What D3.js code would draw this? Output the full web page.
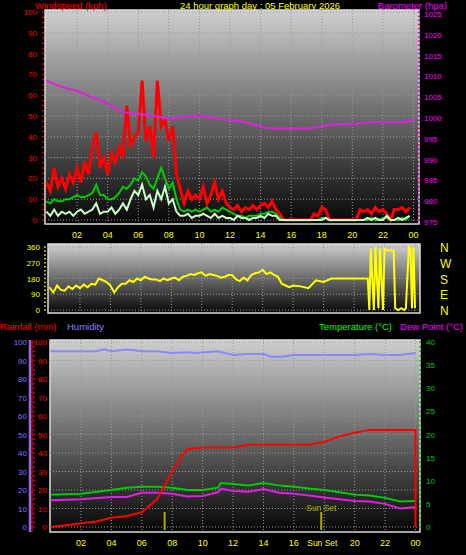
<!DOCTYPE html>
<html>
<head>
<meta charset="utf-8">
<script src="https://cdn.jsdelivr.net/npm/d3@7"></script>
<style>
  body { margin:0; background:#000; }
  text { font-family: "Liberation Sans", sans-serif; }
</style>
</head>
<body>
<svg id="chart" width="466" height="555"></svg>
<script>
// quarter-hour wind data, kph
var gust = [18,14,25,16, 20,15,22,18, 25,18,28,22, 35,42,25,30, 22,32,28,35, 30,55,35,40,
  42,67,38,45, 30,67,45,48, 38,45,22,15, 8,14,10,12, 10,16,8,12, 18,10,14,8,
  6,5,7,4, 6,5,7,5, 7,8,6,9, 5,3,0,0, 0,0,0,0, 0,0,3,2,
  6,5,0,0, 0,0,0,0, 0,0,5,4, 5,3,6,4, 5,3,0,5, 5,6,4,6];
var avgWind = [9,8,10,9, 9,10,10,11, 12,11,11,12, 13,17,12,12, 10,10,11,13, 16,15,17,20,
  19,23,21,17, 15,20,25,20, 15,18,10,5, 4,5,4,5, 4,5,6,4, 5,4,6,5,
  4,3,2,2, 1,2,2,2, 3,3,4,4, 3,1,0,0, 0,0,0,0, 0,0,0,0,
  1,1,0,0, 0,0,0,0, 0,0,0,0, 0,1,0,0, 1,1,0,0, 0,1,0,2];
var speed = [4,2,5,2, 4,3,4,2, 4,5,3,4, 5,8,3,4, 4,6,3,5, 8,5,10,14,
  12,17,10,12, 6,14,10,16, 8,10,4,2, 2,3,1,2, 2,3,2,1, 3,1,2,1,
  1,0,2,1, 1,0,1,1, 2,1,3,2, 2,0,0,0, 0,0,0,0, 0,0,0,0,
  0,1,0,0, 0,0,0,0, 0,0,0,0, 1,0,1,0, 0,2,0,0, 1,0,1,2];
// hourly barometer, hPa
var baro = [1008.5,1007,1006,1004.5,1003,1001,1000.5,1000,999.5,999.8,1000,999.5,999,
  998.5,997.5,997,997,997,997.5,998,998,998.5,998.5,998.5,999];
// wind direction, degrees (quarter-hour 0-16h, then half-hour, then the late swings)
var windDir = [130,100,140,115, 110,135,120,140, 125,145,130,150, 145,180,170,160,
  140,100,130,150, 150,170,160,180, 170,190,180,175, 175,165,180,170,
  180,185,170,190, 195,205,200,210, 215,195,205,200, 195,185,190,200,
  200,175,165,185, 170,200,210,215, 230,205,215,200, 190,150,140,130,
  140,135,125,170,160,180,180,180,180,180,
  0,350,0,360,10,350,0,350,340,340,340,10,0,10,0,10,360,350,10,360,10];
var windDirHours = d3.range(0,16,0.25).concat(d3.range(16,20.5,0.5)).concat([20.9])
  .concat([21,21.1,21.3,21.4,21.6,21.7,21.9,22,22.2,22.4,22.6,22.7,22.9,23.1,23.3,23.4,23.6,23.7,23.8,23.9,24]);
// cumulative rain, mm
var rainHours = [0,1,2,3,4,5,6,7,8,8.5,9,10,11,12,13,14,15,16,17,18,19,20,21,22,23,24,24];
var rain = [0,1,2,3,5,6,8,15,30,37,42,43,43,43,44.5,44.5,44.5,44.5,44.5,46,49,51,52.5,52.5,52.5,52.5,0];
var humHours = [0,3,3.5,4,5,5.5,6,7,8,9,9.5,11,11.5,12,13,14,14.5,15.2,16,17,20,21,22,23,24];
var humidity = [95,95,96,95,96,95.5,95,95,94,94.5,94,95,94,93,93.5,93.5,92,92,93,93,93,93.5,93,93,94];
var tHours = [0,2,4,5,6,7,8,9,10,11,11.2,12,13,14,15,16,17,18,19,20,21,22,23,24];
var temp = [7,7.2,8,8.5,8.7,8.7,8.5,8,8,8.5,9.5,9.3,9,9.5,9,8.7,8.3,8,7.5,7,6.8,6.3,5.5,5.6];
var dew = [5.8,6,6.5,6.5,7.4,7.4,7.2,6.6,6.7,7.5,8.3,7.8,7.6,8.2,7.4,7.2,6.8,6.4,6,5.6,5.5,5,4,4.3];
var hourTicks = [2,4,6,8,10,12,14,16,18,20,22,24];
var sunTimes = [7.5, 17.8];

var svg = d3.select("#chart");
var defs = svg.append("defs");
var grad = defs.append("linearGradient").attr("id","bg").attr("x1",0).attr("x2",0).attr("y1",0).attr("y2",1);
grad.append("stop").attr("offset","0%").attr("stop-color","#cfcfcf");
grad.append("stop").attr("offset","100%").attr("stop-color","#050505");

var fmtH = function(h){ return d3.format("02")(h % 24); };
var qh = gust.map(function(d,i){ return i/4; });

function panel(x0,x1,y0,y1,xs,ys,yticks,hourLabels,skip){
  svg.append("rect").attr("x",x0).attr("y",y0).attr("width",x1-x0).attr("height",y1-y0)
    .attr("fill","url(#bg)").attr("stroke","#ddd").attr("stroke-width",1.5);
  var g = svg.append("g").attr("stroke","#999").attr("stroke-dasharray","1,2").attr("stroke-width",1);
  hourTicks.forEach(function(h){ g.append("line").attr("x1",xs(h)).attr("x2",xs(h)).attr("y1",y0).attr("y2",y1); });
  yticks.forEach(function(v){ g.append("line").attr("x1",x0).attr("x2",x1).attr("y1",ys(v)).attr("y2",ys(v)); });
  if (!hourLabels) return;
  svg.append("g").selectAll("text").data(hourTicks.filter(function(h){return h!==skip;})).join("text")
    .attr("x",function(d){return xs(d);}).attr("y",y1+14).attr("text-anchor","middle")
    .attr("fill","#ff0").attr("font-size",9).text(fmtH);
}
function labels(vals,scale,x,color,anchor,dy){
  svg.append("g").selectAll("text").data(vals).join("text")
    .attr("x",x).attr("y",function(d){return scale(d)+(dy||3);}).attr("text-anchor",anchor)
    .attr("fill",color).attr("font-size",8).text(function(d){return d;});
}
function minor(scale,lo,hi,step,x,color){
  svg.append("g").selectAll("line").data(d3.range(lo,hi+0.001,step)).join("line")
    .attr("x1",x).attr("x2",x+2).attr("y1",function(d){return scale(d);}).attr("y2",function(d){return scale(d);})
    .attr("stroke",color).attr("stroke-width",1.5);
}

// ---- panel 1 wind / baro
var x1 = d3.scaleLinear().domain([0,24]).range([46.5,413.5]);
var yW = d3.scaleLinear().domain([0,100]).range([220,12]);
var yB = d3.scaleLinear().domain([975,1025]).range([220,12]);
panel(45,419,10,224,x1,yW,d3.range(0,101,10),true);
labels(d3.range(0,101,10),yW,37,"#f00","end");
minor(yW,0,100,2.5,42,"#c00");
labels(d3.range(975,1026,5),yB,424,"#f0f","start",5);
minor(yB,975,1025,1,418,"#c0c");
var lw = d3.line().x(function(d,i){return x1(qh[i]);}).y(function(d){return yW(d);});
svg.append("path").attr("d",lw(gust)).attr("fill","none").attr("stroke","#f00").attr("stroke-width",3);
svg.append("path").attr("d",lw(avgWind)).attr("fill","none").attr("stroke","#0c0").attr("stroke-width",2);
svg.append("path").attr("d",lw(speed)).attr("fill","none").attr("stroke","#cfc").attr("stroke-width",2);
svg.append("path").attr("d",d3.line().x(function(d,i){return x1(i);}).y(function(d){return yB(d);}).curve(d3.curveMonotoneX)(baro))
  .attr("fill","none").attr("stroke","#e020e0").attr("stroke-width",2);
svg.append("text").attr("x",35).attr("y",8.5).attr("fill","#f00").attr("font-size",9.5).text("Windspeed (kph)");
svg.append("text").attr("x",260).attr("y",8.5).attr("text-anchor","middle").attr("fill","#ff0").attr("font-size",9.5).text("24 hour graph day : 05 February 2026");
svg.append("text").attr("x",447).attr("y",8.5).attr("text-anchor","end").attr("fill","#f0f").attr("font-size",9.5).text("Barometer (hpa)");

// ---- panel 2 wind direction
var x2 = d3.scaleLinear().domain([0,24]).range([49.5,415]);
var yD = d3.scaleLinear().domain([0,360]).range([310,247]);
panel(48,420,244,313,x2,yD,[0,90,180,270,360],false);
labels([0,90,180,270,360],yD,40,"#ff0","end");
minor(yD,0,360,22.5,44,"#cc0");
svg.append("path").attr("d",d3.line().x(function(d,i){return x2(windDirHours[i]);}).y(function(d){return yD(d);})(windDir))
  .attr("fill","none").attr("stroke","#ff0").attr("stroke-width",2);
svg.append("g").selectAll("text").data(["N","W","S","E","N"]).join("text")
  .attr("x",440).attr("y",function(d,i){return yD(360-i*90)+5;}).attr("fill","#ff0").attr("font-size",12).text(function(d){return d;});

// ---- panel 3 rain / humidity / temp
var x3 = d3.scaleLinear().domain([0,24]).range([50.6,415.5]);
var yR = d3.scaleLinear().domain([0,100]).range([527,342]);
var yT = d3.scaleLinear().domain([0,40]).range([527,342]);
svg.append("text").attr("x",0).attr("y",330).attr("fill","#f00").attr("font-size",9.5).text("Rainfall (mm)");
svg.append("text").attr("x",67).attr("y",330).attr("fill","#88f").attr("font-size",9.5).text("Humidity");
svg.append("text").attr("x",392).attr("y",330).attr("text-anchor","end").attr("fill","#0f0").attr("font-size",9.5).text("Temperature (°C)");
svg.append("text").attr("x",463).attr("y",330).attr("text-anchor","end").attr("fill","#f0f").attr("font-size",9.5).text("Dew Point (°C)");
panel(50,420,340,532,x3,yR,d3.range(0,101,10),true,18);
svg.append("line").attr("x1",30).attr("x2",30).attr("y1",340).attr("y2",532).attr("stroke","#77f").attr("stroke-width",2.5);
svg.append("line").attr("x1",32).attr("x2",32).attr("y1",340).attr("y2",532).attr("stroke","#c00").attr("stroke-width",1.5);
labels(d3.range(0,101,10),yR,27,"#77f","end");
labels(d3.range(0,101,10),yR,47,"#f00","end");
minor(yR,0,100,2.5,33,"#c00");
labels(d3.range(0,41,5),yT,426,"#0c0","start");
minor(yT,0,40,1,419,"#0c0");
sunTimes.forEach(function(h){
  svg.append("line").attr("x1",x3(h)).attr("x2",x3(h)).attr("y1",512).attr("y2",530).attr("stroke","#aa0").attr("stroke-width",2);
});
svg.append("text").attr("x",x3(sunTimes[1])-15).attr("y",511).attr("fill","#aa0").attr("font-size",8.5).text("Sun Set");
svg.append("text").attr("x",x3(sunTimes[1])-14).attr("y",546).attr("fill","#ff0").attr("font-size",8.5).text("Sun Set");
function ln(xs,ys,xa,ya,col,w){
  svg.append("path").attr("d",d3.line().x(function(d,i){return xs(xa[i]);}).y(function(d){return ys(d);})(ya))
    .attr("fill","none").attr("stroke",col).attr("stroke-width",w);
}
ln(x3,yR,humHours,humidity,"#88f",2);
ln(x3,yT,tHours,temp,"#0c0",2);
ln(x3,yT,tHours,dew,"#e020e0",2);
ln(x3,yR,rainHours,rain,"#f00",2);
</script>
</body>
</html>
